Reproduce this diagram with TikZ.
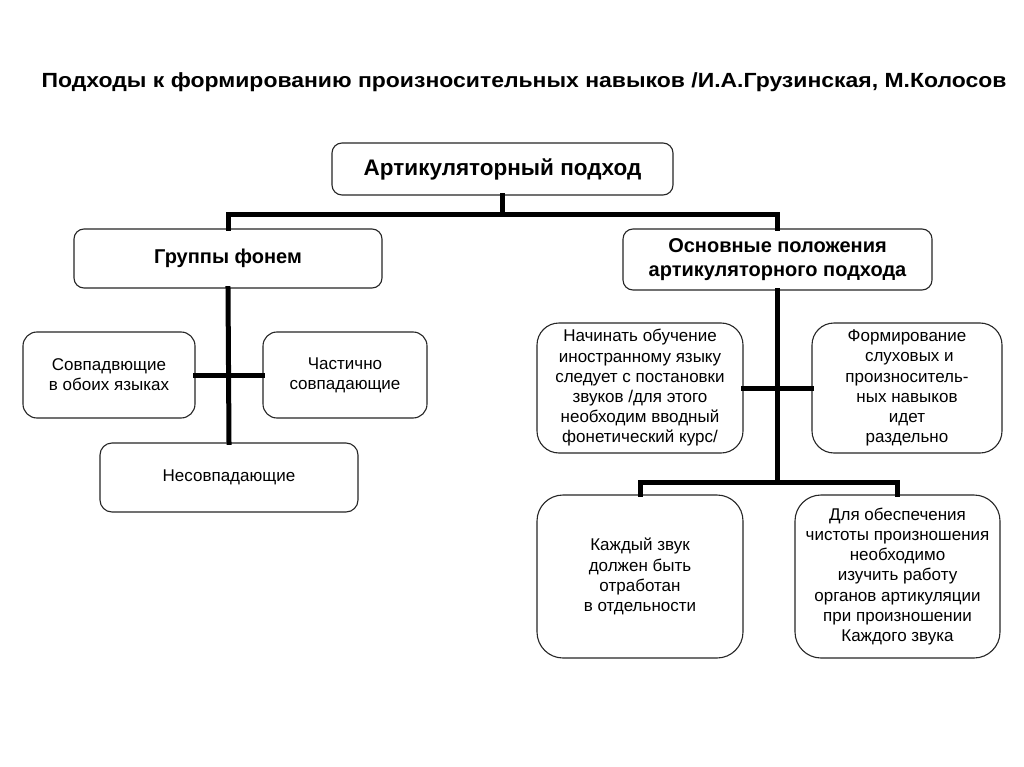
\documentclass[tikz,border=0pt]{standalone}
\usepackage{fontspec}
\setmainfont{Liberation Sans}
\begin{document}
\begin{tikzpicture}[x=1pt,y=-1pt,
  box/.style={draw=black!85,line width=1.1pt,rounded corners=#1,inner sep=0pt,align=center,
    font=\fontsize{17}{20.2}\selectfont},
  box/.default=12pt,
  hdr/.style={font=\bfseries\fontsize{20}{24}\selectfont},
  conn/.style={line width=5pt,line cap=rect,black}]
\useasboundingbox[fill=white] (0,0) rectangle (1024,767);
\node[font=\bfseries\fontsize{20.5}{24}\selectfont,inner sep=0pt] (title) at (524,82)
  {\scalebox{1.12}[1]{Подходы к формированию произносительных навыков /И.А.Грузинская, М.Колосов}};
% boxes
\node[box=10pt,minimum width=341pt,minimum height=52pt,font=\bfseries\fontsize{22.5}{26}\selectfont] (top) at (502.5,169) {Артикуляторный подход};
\node[box=10pt,minimum width=308pt,minimum height=59pt,hdr] (groups) at (228,258.5) {Группы фонем};
\node[box=10pt,minimum width=309pt,minimum height=61pt,hdr] (basics) at (777.5,259.5) {Основные положения\\артикуляторного подхода};
\node[box=14pt,minimum width=172pt,minimum height=86pt] (sov) at (109,375) {Совпадвющие\\в обоих языках};
\node[box=14pt,minimum width=164pt,minimum height=86pt] (chast) at (345,375) {Частично\\совпадающие};
\node[box=12pt,minimum width=258pt,minimum height=69pt] (nes) at (229,477.5) {Несовпадающие};
\node[box=22pt,minimum width=206pt,minimum height=130pt] (nach) at (640,388) {Начинать обучение\\иностранному языку\\следует с постановки\\звуков /для этого\\необходим вводный\\фонетический курс/};
\node[box=22pt,minimum width=190pt,minimum height=130pt] (form) at (907,388) {Формирование\\\ слуховых и\\произноситель-\\ных навыков\\идет\\раздельно};
\node[box=26pt,minimum width=206pt,minimum height=163pt] (kazh) at (640,576.5) {Каждый звук\\должен быть\\отработан\\в отдельности};
\node[box=26pt,minimum width=205pt,minimum height=163pt] (dlya) at (897.5,576.5) {Для обеспечения\\чистоты произношения\\необходимо\\изучить работу\\органов артикуляции\\при произношении\\Каждого звука};
% connectors
\coordinate (bus1) at (0,215);
\coordinate (bus2) at (0,482);
\draw[conn] (top.south) -- (top.south |- bus1);
\draw[conn] (groups.north) -- (groups.north |- bus1) -- (basics.north |- bus1) -- (basics.north);
\draw[conn] (groups.south) -- (nes.north);
\draw[conn] (sov.east) -- (chast.west);
\draw[conn] (basics.south) -- (basics.south |- bus2);
\draw[conn] (nach.east) -- (form.west);
\draw[conn] (kazh.north) -- (kazh.north |- bus2) -- (dlya.north |- bus2) -- (dlya.north);
\end{tikzpicture}
\end{document}
